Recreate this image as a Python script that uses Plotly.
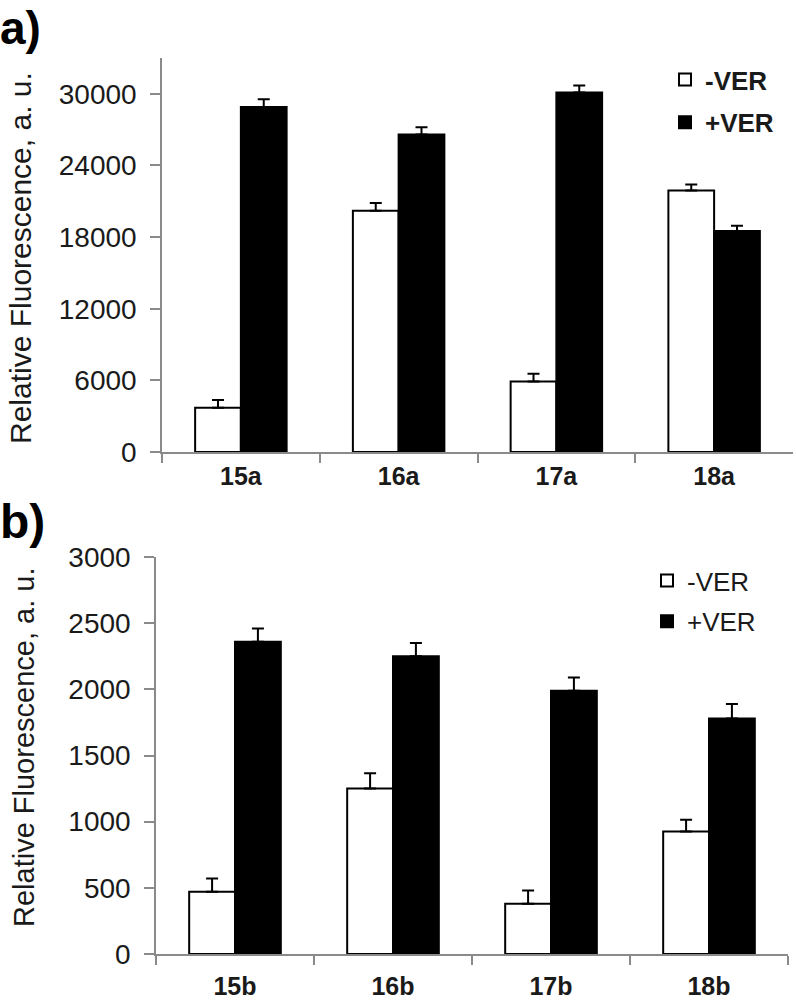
import plotly.graph_objects as go

# ---- data ----
cats_a = ["15a", "16a", "17a", "18a"]
minus_ver_a = [3700, 20200, 5900, 21900]
plus_ver_a = [28900, 26600, 30100, 18500]
err_minus_a = [650, 650, 650, 500]
err_plus_a = [650, 600, 600, 450]

cats_b = ["15b", "16b", "17b", "18b"]
minus_ver_b = [470, 1250, 380, 925]
plus_ver_b = [2360, 2250, 1990, 1780]
err_minus_b = [100, 115, 100, 90]
err_plus_b = [100, 100, 100, 110]

yticks_a = [0, 6000, 12000, 18000, 24000, 30000]
yticklabels_a = ["0", "6000", "12000", "18000", "24000", "30000"]
yticks_b = [0, 500, 1000, 1500, 2000, 2500, 3000]
yticklabels_b = ["0", "500", "1000", "1500", "2000", "2500", "3000"]

FONT = "Liberation Sans, Arial, sans-serif"
W, H = 796, 1000
AXC = "#8a8a8a"
TXT = "#1a1a1a"


def px_x(p):
    return p / W


def px_y(p):
    return 1 - p / H


def err(vals):
    return dict(type="data", symmetric=False, array=vals, arrayminus=[0] * len(vals),
                color="black", thickness=2, width=6, visible=True)


fig = go.Figure()

fig.add_trace(go.Bar(x=cats_a, y=minus_ver_a, name="-VER", error_y=err(err_minus_a),
                     marker=dict(color="white", line=dict(color="black", width=2)),
                     xaxis="x", yaxis="y", legend="legend", legendgroup="a1"))
fig.add_trace(go.Bar(x=cats_a, y=plus_ver_a, name="+VER", error_y=err(err_plus_a),
                     marker=dict(color="black", line=dict(color="black", width=2)),
                     xaxis="x", yaxis="y", legend="legend", legendgroup="a2"))
fig.add_trace(go.Bar(x=cats_b, y=minus_ver_b, name="-VER", error_y=err(err_minus_b),
                     marker=dict(color="white", line=dict(color="black", width=2)),
                     xaxis="x2", yaxis="y2", legend="legend2", legendgroup="b1"))
fig.add_trace(go.Bar(x=cats_b, y=plus_ver_b, name="+VER", error_y=err(err_plus_b),
                     marker=dict(color="black", line=dict(color="black", width=2)),
                     xaxis="x2", yaxis="y2", legend="legend2", legendgroup="b2"))

xcommon = dict(type="category", showline=True, linecolor=AXC, linewidth=1.5,
               ticks="outside", ticklen=9, tickwidth=1.5, tickcolor=AXC,
               tickson="boundaries", showgrid=False, zeroline=False, automargin=False,
               tickfont=dict(family=FONT, size=25, color=TXT, weight="bold"))
ycommon = dict(showline=True, linecolor=AXC, linewidth=1.5,
               ticks="outside", ticklen=10, tickwidth=1.5, tickcolor=AXC,
               showgrid=False, zeroline=False, ticklabelstandoff=8, automargin=False,
               tickfont=dict(family=FONT, size=28, color=TXT))

fig.update_layout(
    template="none",
    width=W, height=H, autosize=False,
    margin=dict(l=0, r=0, t=0, b=0, pad=0),
    paper_bgcolor="white", plot_bgcolor="white",
    barmode="group", bargap=0.42, bargroupgap=0,
    xaxis=dict(domain=[px_x(162), px_x(793)], anchor="y", ticklabelstandoff=1, **xcommon),
    yaxis=dict(domain=[px_y(452), px_y(58)], anchor="x", range=[0, 33000],
               tickmode="array", tickvals=yticks_a, ticktext=yticklabels_a, **ycommon),
    xaxis2=dict(domain=[px_x(156), px_x(788)], anchor="y2", ticklabelstandoff=9, **xcommon),
    yaxis2=dict(domain=[px_y(954), px_y(557)], anchor="x2", range=[0, 3000],
                tickmode="array", tickvals=yticks_b, ticktext=yticklabels_b, **ycommon),
    legend=dict(x=px_x(665), y=px_y(56), xanchor="left", yanchor="top",
                bgcolor="rgba(0,0,0,0)", traceorder="grouped", tracegroupgap=6,
                font=dict(family=FONT, size=26, color=TXT, weight="bold")),
    legend2=dict(x=px_x(647), y=px_y(557), xanchor="left", yanchor="top",
                 bgcolor="rgba(0,0,0,0)", traceorder="grouped", tracegroupgap=4,
                 font=dict(family=FONT, size=26, color=TXT)),
    annotations=[
        dict(text="a)", x=0, y=1, xref="paper", yref="paper", xanchor="left", yanchor="top",
             xshift=-2, yshift=0,
             showarrow=False, font=dict(family=FONT, size=46, color="black", weight="bold")),
        dict(text="b)", x=0, y=px_y(492), xref="paper", yref="paper", xanchor="left", yanchor="top",
             xshift=-2, yshift=-1,
             showarrow=False, font=dict(family=FONT, size=48, color="black", weight="bold")),
        dict(text="Relative Fluorescence, a. u.", x=px_x(20), y=px_y(258), xref="paper", yref="paper",
             xanchor="center", yanchor="middle", textangle=-90, showarrow=False,
             font=dict(family=FONT, size=30, color=TXT)),
        dict(text="Relative Fluorescence, a. u.", x=px_x(24), y=px_y(748), xref="paper", yref="paper",
             xanchor="center", yanchor="middle", textangle=-90, showarrow=False,
             font=dict(family=FONT, size=29, color=TXT)),
    ],
)

fig.write_html("out.html", config={"displayModeBar": False},
               post_script="document.body.style.margin='0';document.body.style.padding='0';")
